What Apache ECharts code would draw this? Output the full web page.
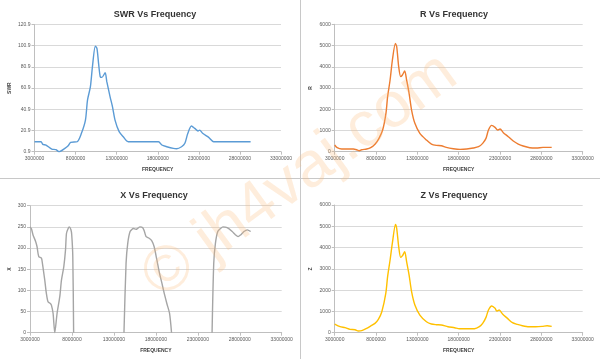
<!DOCTYPE html>
<html>
<head>
<meta charset="utf-8">
<script src="https://cdn.jsdelivr.net/npm/echarts@6/dist/echarts.min.js"></script>
<style>html,body{margin:0;padding:0;background:#fff;}#c{width:600px;height:359px;}</style>
</head>
<body>
<div id="c"></div>
<script>
// Frequencies in MHz
const swrFreq = [3.0,3.8,4.0,4.4,5.1,5.6,6.0,6.7,7.1,7.4,8.2,8.7,9.2,9.45,9.8,10.05,10.4,10.6,10.8,11.0,11.2,11.6,11.8,12.2,12.5,12.8,13.3,13.8,14.4,18.1,18.5,19.1,19.9,20.3,20.9,21.3,21.65,22.1,22.5,22.9,23.1,23.5,24.2,24.8,29.3];
const swrVals = [10.3,10.3,7.8,7.2,3.4,2.8,0.9,4.0,6.5,9.7,10.3,18,30.7,49.6,62,81,100.5,98.3,84,71.6,71,75.4,67,52.7,43,30.7,19.8,15,10.3,10.3,7.2,5.6,4.0,3.7,5.6,8.8,18,25.1,22.9,20.4,21.3,18,14.4,10.3,10.3];

const rFreq = [3.0,3.3,3.85,5.25,5.65,5.98,6.27,6.87,7.35,7.9,8.36,8.8,9.2,9.4,9.7,9.98,10.34,10.5,10.74,10.98,11.19,11.47,11.7,12.0,12.3,12.7,13.3,14.1,14.7,15.3,15.9,16.5,17.35,18.16,18.97,19.77,20.4,20.9,21.3,21.6,21.99,22.4,22.7,23.0,23.4,24.0,24.6,25.2,25.8,26.6,27.4,28.2,29.25];
const rVals = [314,188,126,126,94,47,94,126,188,361,628,1020,1806,2590,3377,4319,5104,4947,4005,3534,3612,3801,3377,2749,1963,1335,864,550,361,298,283,204,141,110,126,173,236,393,628,1020,1241,1147,1020,1068,895,707,503,361,267,188,173,204,204];

const xFreq = [3.0,3.16,3.36,3.68,3.84,4.04,4.36,4.48,4.76,4.95,5.15,5.43,5.55,5.75,5.95,6.23,6.55,6.75,7.03,7.23,7.35,7.55,7.67,7.87,7.97,8.1,8.2,
               11.0,
               14.2,14.45,14.65,14.93,15.33,15.64,15.8,16.12,16.44,16.64,16.84,17.2,17.52,17.8,18.12,18.44,18.72,19.0,19.31,19.63,19.87,
               22.0,
               24.7,24.9,25.1,25.38,25.7,26.0,26.5,27.1,27.5,27.8,28.1,28.5,28.9,29.3];
const xVals = [250,246,231,215,203,180,176,164,124,93,73,69,65,46,0,46,85,124,156,195,235,246,250,244,232,180,0,
               null,
               0,164,211,239,246,244,246,250,248,239,227,223,217,203,172,140,117,93,69,46,0,
               null,
               0,164,211,239,246,250,248,239,231,227,231,239,243,239];

const zFreq = [3.0,3.65,4.25,4.85,5.46,5.86,6.27,6.87,7.35,7.87,8.28,8.7,9.18,9.4,9.7,10.0,10.35,10.5,10.74,10.98,11.2,11.47,11.7,12.0,12.3,12.7,13.3,14.1,14.7,15.3,15.9,16.7,17.5,18.1,18.9,19.9,20.5,20.9,21.3,21.6,22.0,22.4,22.6,22.9,23.3,23.9,24.5,25.1,25.7,26.5,27.3,28.1,28.7,29.25];
const zVals = [407,282,235,157,141,78,94,204,313,439,627,987,1849,2632,3415,4277,5092,4904,4042,3541,3619,3807,3337,2710,1927,1300,830,517,407,376,360,282,235,188,188,188,282,439,721,1065,1253,1144,1018,1065,877,674,470,392,329,282,282,298,329,298];

const titles = ['SWR Vs Frequency','R Vs Frequency','X Vs Frequency','Z Vs Frequency'];
const yNames = ['SWR','R','X','Z'];
const colors = ['#5B9BD5','#ED7D31','#A5A5A5','#FFC000'];

const pairs = (f, v) => f.map((x, i) => [x * 1e6, v[i]]);
const seriesData = [pairs(swrFreq, swrVals), pairs(rFreq, rVals), pairs(xFreq, xVals), pairs(zFreq, zVals)];

const grids = [
  {left: 34.5, top: 24.5, width: 246.5, height: 127.2},
  {left: 334.7, top: 24.3, width: 248, height: 127.4},
  {left: 30, top: 205.7, width: 251.7, height: 127},
  {left: 334.7, top: 205, width: 248, height: 127.7}
];
const titleCenters = [150, 449, 149, 449];
const yCfg = [
  {min: 0.9, max: 120.9, interval: 20, fmt: v => v.toFixed(1)},
  {min: 0, max: 6000, interval: 1000, fmt: v => String(v)},
  {min: 0, max: 300, interval: 50, fmt: v => String(v)},
  {min: 0, max: 6000, interval: 1000, fmt: v => String(v)}
];
const FONT = 'Liberation Sans';
const axisColor = '#BFBFBF';
const gridColor = '#D9D9D9';

const option = {
  animation: false,
  backgroundColor: '#fff',
  title: grids.map((g, i) => ({
    text: titles[i],
    left: titleCenters[i],
    textAlign: 'center',
    top: i < 2 ? 5 : 186,
    textStyle: {fontFamily: FONT, fontSize: 9, fontWeight: 'bold', color: '#333'}
  })),
  grid: grids,
  xAxis: grids.map((g, i) => ({
    type: 'value', gridIndex: i,
    min: 3000000, max: 33000000, interval: 5000000,
    name: 'FREQUENCY', nameLocation: 'middle', nameGap: 15,
    nameTextStyle: {fontFamily: FONT, fontSize: 5, fontWeight: 'bold', color: '#404040'},
    axisLine: {show: true, lineStyle: {color: axisColor, width: 1}},
    axisTick: {show: true, length: 3, lineStyle: {color: axisColor}},
    splitLine: {show: false},
    axisLabel: {fontFamily: FONT, fontSize: 5, color: '#595959', margin: 4, formatter: v => String(v)}
  })),
  yAxis: grids.map((g, i) => ({
    type: 'value', gridIndex: i,
    min: yCfg[i].min, max: yCfg[i].max, interval: yCfg[i].interval,
    name: yNames[i], nameLocation: 'middle', nameRotate: 90, nameGap: i === 2 ? 18 : 22,
    nameTextStyle: {fontFamily: FONT, fontSize: 5, fontWeight: 'bold', color: '#404040'},
    axisLine: {show: true, lineStyle: {color: axisColor, width: 1}},
    axisTick: {show: true, length: 3, lineStyle: {color: axisColor}},
    splitLine: {show: true, lineStyle: {color: gridColor, width: 1}},
    axisLabel: {fontFamily: FONT, fontSize: 5, color: '#595959', margin: 4, formatter: yCfg[i].fmt}
  })),
  series: seriesData.map((d, i) => ({
    type: 'line', xAxisIndex: i, yAxisIndex: i,
    data: d, showSymbol: false, smooth: 0.25, connectNulls: false,
    lineStyle: {color: colors[i], width: 1.4},
    itemStyle: {color: colors[i]}
  })),
  graphic: [
    {type: 'line', shape: {x1: 300.5, y1: 0, x2: 300.5, y2: 359}, style: {stroke: '#C8C8C8', lineWidth: 1}, silent: true},
    {type: 'line', shape: {x1: 0, y1: 178.5, x2: 600, y2: 178.5}, style: {stroke: '#C8C8C8', lineWidth: 1}, silent: true},
    {type: 'text', x: 300, y: 176, rotation: 0.63, z: 100, silent: true,
     style: {text: '© jh4vaj.com', fontFamily: FONT, fontSize: 64, fill: 'rgba(250,185,120,0.26)',
             textAlign: 'center', textVerticalAlign: 'middle'}}
  ]
};
echarts.init(document.getElementById('c'), null, {renderer: 'canvas'}).setOption(option);
</script>
</body>
</html>
